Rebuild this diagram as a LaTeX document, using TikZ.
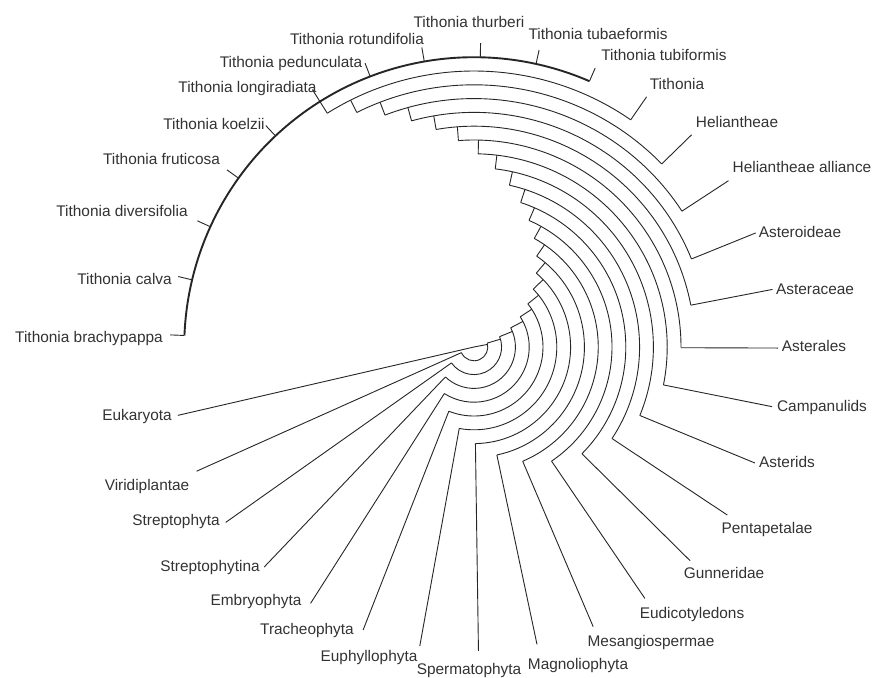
\documentclass[tikz,border=0pt]{standalone}
\usepackage{fontspec}
\setmainfont{Liberation Sans}
\begin{document}
\begin{tikzpicture}[x=1pt,y=1pt,
  branch/.style={line width=0.9pt, draw=black!85},
  genus/.style={line width=1.9pt, draw=black!85},
  lab/.style={font=\fontsize{15.4}{18}\selectfont, text=black!80, inner sep=0pt, anchor=center, text height=11pt, text depth=3pt}]
\useasboundingbox (0,0) rectangle (874,677);
\fill[white] (0,0) rectangle (874,677);
\begin{scope}[shift={(474,330)}]
\pgfmathsetmacro\aend{193+11.12*31}
% ladder of nested clades
\foreach \k in {0,...,20}{
  \pgfmathsetmacro\a{193+11.12*\k}
  \pgfmathsetmacro\r{13.8*\k}
  \pgfmathsetmacro\rn{13.8*(\k+1)}
  \pgfmathsetmacro\t{(193+11.12*(\k+1)+\aend)/2}
  \coordinate (n\k) at (\a:\r pt);
  \coordinate (tip\k) at (\a:304pt);
  \coordinate (s\k) at (\t:\r pt);
  \coordinate (e\k) at (\t:\rn pt);
  \draw[branch] (n\k) -- (tip\k);
  \ifnum\k>0 \draw[branch] (n\k) arc[start angle=\a, end angle=\t, radius=\r pt];\fi
  \draw[branch] (s\k) -- (e\k);
}
% genus Tithonia species
\pgfmathsetmacro\astart{193+11.12*21}
\pgfmathsetmacro\rg{13.8*21}
\coordinate (g0) at (\astart:\rg pt);
\draw[genus] (g0) arc[start angle=\astart, end angle=\aend, radius=\rg pt];
\foreach \i in {21,...,31}{
  \pgfmathsetmacro\a{193+11.12*\i}
  \coordinate (n\i) at (\a:\rg pt);
  \coordinate (tip\i) at (\a:304pt);
  \draw[branch] (n\i) -- (tip\i);
}
\end{scope}
% labels
\node[lab] (l23) at (469,653) {Tithonia thurberi};
\node[lab] (l24) at (357,636) {Tithonia rotundifolia};
\node[lab] (l25) at (291,613) {Tithonia pedunculata};
\node[lab] (l26) at (247.5,588) {Tithonia longiradiata};
\node[lab] (l27) at (214,551) {Tithonia koelzii};
\node[lab] (l28) at (161.5,516) {Tithonia fruticosa};
\node[lab] (l29) at (122,464) {Tithonia diversifolia};
\node[lab] (l30) at (124.5,396) {Tithonia calva};
\node[lab] (l31) at (89,338) {Tithonia brachypappa};
\node[lab] (l22) at (598,641) {Tithonia tubaeformis};
\node[lab] (l21) at (664,620) {Tithonia tubiformis};
\node[lab] (l20) at (677,591) {Tithonia};
\node[lab] (l19) at (737,553) {Heliantheae};
\node[lab] (l18) at (802,508) {Heliantheae alliance};
\node[lab] (l17) at (800,443) {Asteroideae};
\node[lab] (l16) at (815,386) {Asteraceae};
\node[lab] (l15) at (814,329) {Asterales};
\node[lab] (l14) at (822,269) {Campanulids};
\node[lab] (l13) at (787,213) {Asterids};
\node[lab] (l12) at (767,148) {Pentapetalae};
\node[lab] (l11) at (724,103) {Gunneridae};
\node[lab] (l10) at (692,63) {Eudicotyledons};
\node[lab] (l9) at (651,35) {Mesangiospermae};
\node[lab] (l8) at (578,12) {Magnoliophyta};
\node[lab] (l7) at (469,7) {Spermatophyta};
\node[lab] (l6) at (369,20) {Euphyllophyta};
\node[lab] (l5) at (307,47) {Tracheophyta};
\node[lab] (l4) at (256,76) {Embryophyta};
\node[lab] (l3) at (210,110) {Streptophytina};
\node[lab] (l2) at (176,156) {Streptophyta};
\node[lab] (l1) at (147,190) {Viridiplantae};
\node[lab] (l0) at (137,260) {Eukaryota};
\end{tikzpicture}
\end{document}
